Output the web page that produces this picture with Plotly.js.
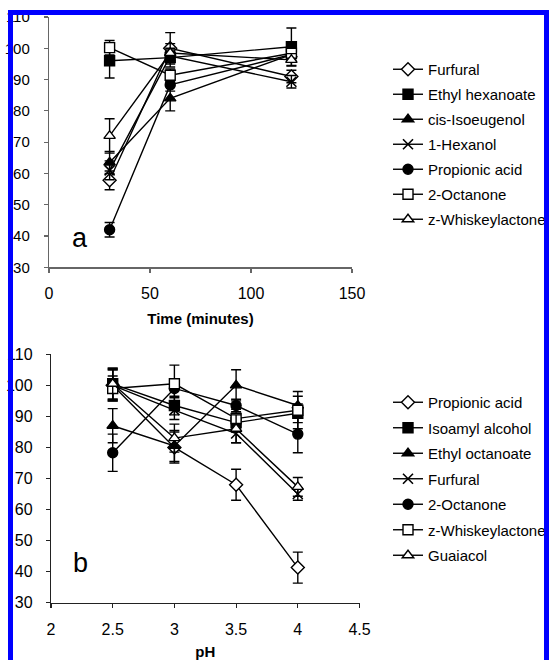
<!DOCTYPE html>
<html>
<head>
<meta charset="utf-8">
<script src="https://cdn.plot.ly/plotly-3.0.1.min.js"></script>
<style>
  html, body { margin: 0; padding: 0; background: #fff; overflow: hidden; }
  #wrap { position: relative; width: 551px; height: 660px; overflow: hidden; }
  #chart { position: absolute; left: 0; top: 0; width: 551px; height: 660px; }
  #frame { position: absolute; left: 8px; top: 10px; width: 541px; height: 720px;
           box-sizing: border-box; border: 5px solid #0000ff; pointer-events: none; }
  #edge { position: absolute; left: 549px; top: 0; width: 10px; height: 660px; background: #fff; }
</style>
</head>
<body>
<div id="wrap">
  <div id="chart"></div>
  <div id="frame"></div>
  <div id="edge"></div>
</div>
<script>
// Panel a: recovery (%) versus extraction time
const timeMinutes = [30, 60, 120];
const timeSeriesNames = ["Furfural", "Ethyl hexanoate", "cis-Isoeugenol", "1-Hexanol",
                         "Propionic acid", "2-Octanone", "z-Whiskeylactone"];
const furfuralTime       = [57.8, 100.0, 91.0];
const ethylHexanoateTime = [96.0, 97.0, 100.5];
const isoeugenolTime     = [63.5, 84.0, 98.0];
const hexanolTime        = [61.0, 97.5, 89.3];
const propionicTime      = [42.0, 88.3, 98.0];
const octanoneTime       = [100.2, 91.4, 98.4];
const whiskeyTime        = [72.0, 98.5, 96.3];
const furfuralTimeErr       = [3.0, 5.0, 2.0];
const ethylHexanoateTimeErr = [5.5, 3.0, 6.0];
const isoeugenolTimeErr     = [3.5, 4.0, 2.0];
const hexanolTimeErr        = [3.0, 2.0, 2.0];
const propionicTimeErr      = [2.3, 2.0, 2.0];
const octanoneTimeErr       = [2.3, 2.0, 2.0];
const whiskeyTimeErr        = [5.5, 3.0, 2.0];

// Panel b: recovery (%) versus pH
const phValues = [2.5, 3, 3.5, 4];
const phSeriesNames = ["Propionic acid", "Isoamyl alcohol", "Ethyl octanoate", "Furfural",
                       "2-Octanone", "z-Whiskeylactone", "Guaiacol"];
const propionicPh     = [100.0, 80.0, 68.0, 41.3];
const isoamylPh       = [100.5, 93.5, 88.0, 91.0];
const ethylOctanoatePh= [87.0, 80.5, 100.0, 93.5];
const furfuralPh      = [100.0, 92.0, 84.5, 65.0];
const octanonePh      = [78.3, 99.0, 93.5, 84.3];
const whiskeyPh       = [99.0, 100.5, 89.3, 92.0];
const guaiacolPh      = [100.5, 83.0, 86.0, 67.3];
const propionicPhErr     = [5.0, 5.0, 5.0, 5.0];
const isoamylPhErr       = [5.0, 3.0, 3.0, 3.0];
const ethylOctanoatePhErr= [5.5, 5.0, 5.0, 3.0];
const furfuralPhErr      = [5.0, 3.0, 3.0, 2.0];
const octanonePhErr      = [6.0, 3.0, 2.0, 6.0];
const whiskeyPhErr       = [4.0, 6.0, 3.0, 6.0];
const guaiacolPhErr      = [5.0, 4.5, 4.5, 3.0];

const FONT = "Liberation Sans, Arial, sans-serif";

// marker styles: [symbol, fill]
const styleOf = {
  diamond:  ["diamond", "#ffffff"],
  fsquare:  ["square", "#000000"],
  ftri:     ["triangle-up", "#000000"],
  cross:    ["x-thin-open", "#000000"],
  fcircle:  ["circle", "#000000"],
  osquare:  ["square", "#ffffff"],
  otri:     ["triangle-up", "#ffffff"]
};

function series(name, x, y, err, style, xa, ya, legend, idx) {
  const s = styleOf[style];
  const isX = style === "cross";
  return {
    type: "scatter", mode: "lines+markers", name: name,
    x: x, y: y, xaxis: xa, yaxis: ya, legend: legend,
    legendgroup: legend + idx,
    line: { color: "#000", width: 1.4 },
    marker: {
      symbol: s[0], color: s[1], size: 10,
      line: { color: "#000", width: isX ? 1.6 : 1.4 }
    },
    error_y: { type: "data", array: err, visible: true, color: "#000", thickness: 1.4, width: 5 }
  };
}

const timeStyles = ["diamond", "fsquare", "ftri", "cross", "fcircle", "osquare", "otri"];
const timeVals = [furfuralTime, ethylHexanoateTime, isoeugenolTime, hexanolTime,
                  propionicTime, octanoneTime, whiskeyTime];
const timeErrs = [furfuralTimeErr, ethylHexanoateTimeErr, isoeugenolTimeErr, hexanolTimeErr,
                  propionicTimeErr, octanoneTimeErr, whiskeyTimeErr];

const phStyles = ["diamond", "fsquare", "ftri", "cross", "fcircle", "osquare", "otri"];
const phVals = [propionicPh, isoamylPh, ethylOctanoatePh, furfuralPh, octanonePh, whiskeyPh, guaiacolPh];
const phErrs = [propionicPhErr, isoamylPhErr, ethylOctanoatePhErr, furfuralPhErr,
                octanonePhErr, whiskeyPhErr, guaiacolPhErr];

const traces = [];
timeSeriesNames.forEach((n, i) =>
  traces.push(series(n, timeMinutes, timeVals[i], timeErrs[i], timeStyles[i], "x", "y", "legend", i)));
phSeriesNames.forEach((n, i) =>
  traces.push(series(n, phValues, phVals[i], phErrs[i], phStyles[i], "x2", "y2", "legend2", i)));

const W = 551, H = 660;
function axisBase(color, size) {
  return {
    showgrid: false, zeroline: false, showline: true, linecolor: color, linewidth: 1.2,
    ticks: "outside", ticklen: 4, tickcolor: color, tickwidth: 1.2,
    tickfont: { family: FONT, size: size, color: "#000" }, fixedrange: true
  };
}

const legendStyle = {
  font: { family: FONT, size: 15, color: "#000" },
  bgcolor: "rgba(0,0,0,0)", borderwidth: 0,
  itemwidth: 30, traceorder: "grouped",
  xanchor: "left", yanchor: "top"
};

const layout = {
  width: W, height: H,
  margin: { l: 0, r: 0, t: 0, b: 0 },
  paper_bgcolor: "#fff", plot_bgcolor: "#fff",
  showlegend: true,
  xaxis: Object.assign(axisBase("#666", 16), {
    domain: [49 / W, 352 / W], range: [0, 150], tickvals: [0, 50, 100, 150],
    ticklabelstandoff: 7, anchor: "y",
    title: { text: "<b>Time (minutes)</b>", font: { family: FONT, size: 15, color: "#000" }, standoff: 12 }
  }),
  yaxis: Object.assign(axisBase("#666", 15), {
    domain: [1 - 267.3 / H, 1 - 17 / H], range: [30, 110], dtick: 10,
    ticklabelstandoff: 11, anchor: "x"
  }),
  xaxis2: Object.assign(axisBase("#222", 16), {
    domain: [51 / W, 359.5 / W], range: [2, 4.5], tickvals: [2, 2.5, 3, 3.5, 4, 4.5],
    ticktext: ["2", "2.5", "3", "3.5", "4", "4.5"],
    ticklabelstandoff: 8, anchor: "y2",
    title: { text: "<b>pH</b>", font: { family: FONT, size: 15, color: "#000" }, standoff: 24 }
  }),
  yaxis2: Object.assign(axisBase("#222", 16), {
    domain: [1 - 602.7 / H, 1 - 354.3 / H], range: [30, 110], dtick: 10,
    ticklabelstandoff: 10, anchor: "x2"
  }),
  legend: Object.assign({}, legendStyle, { x: 388 / W, y: 1 - 53 / H, tracegroupgap: 2.5 }),
  legend2: Object.assign({}, legendStyle, { x: 388 / W, y: 1 - 386 / H, tracegroupgap: 3 }),
  annotations: [
    { text: "a", xref: "x", yref: "y", x: 15.3, y: 39.4, showarrow: false,
      font: { family: FONT, size: 27, color: "#000" } },
    { text: "b", xref: "x2", yref: "y2", x: 2.235, y: 42.8, showarrow: false,
      font: { family: FONT, size: 27, color: "#000" } }
  ]
};

Plotly.newPlot("chart", traces, layout, { staticPlot: true, displayModeBar: false });
</script>
</body>
</html>
